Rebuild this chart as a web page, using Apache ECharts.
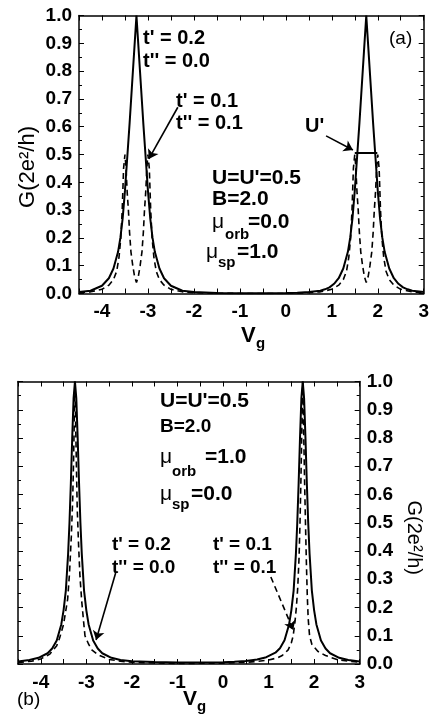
<!DOCTYPE html>
<html><head><meta charset="utf-8">
<script src="https://cdn.jsdelivr.net/npm/echarts@6/dist/echarts.min.js"></script>
<style>html,body{margin:0;padding:0;background:#fff}#c{width:432px;height:719px}</style>
</head><body><div id="c"></div>
<script>
// ---------- Panel (a): mu_orb=0, mu_sp=1 ----------
const aSolidX = [-4.5,-4.25,-4.0,-3.85,-3.75,-3.65,-3.6,-3.55,-3.5,-3.45,-3.4,-3.35,-3.3,-3.25,-3.2,-3.15,-3.1,-3.05,-3.0,-2.95,-2.9,-2.85,-2.75,-2.65,-2.5,-2.25,-2.0,-1.5,-1.0,-0.5,0,0.25,0.5,0.75,0.85,0.95,1.05,1.15,1.25,1.35,1.4,1.45,1.5,1.55,1.6,1.65,1.7,1.75,1.8,1.85,1.9,1.95,2.0,2.05,2.1,2.15,2.25,2.35,2.45,2.55,2.65,2.75,3.0];
const aSolidY = [0.005,0.01,0.028,0.055,0.09,0.15,0.2,0.27,0.37,0.49,0.61,0.74,0.87,1.0,0.87,0.74,0.61,0.49,0.37,0.27,0.2,0.15,0.09,0.055,0.028,0.01,0.005,0.002,0.001,0.001,0.002,0.003,0.005,0.01,0.015,0.022,0.035,0.055,0.09,0.15,0.2,0.27,0.37,0.49,0.61,0.74,0.87,1.0,0.87,0.74,0.61,0.49,0.37,0.27,0.2,0.15,0.09,0.055,0.035,0.022,0.015,0.01,0.005];
const aDashX = [-4.5,-4.25,-4.0,-3.85,-3.75,-3.68,-3.63,-3.59,-3.56,-3.53,-3.5,-3.48,-3.45,-3.425,-3.4,-3.37,-3.33,-3.29,-3.25,-3.21,-3.17,-3.13,-3.1,-3.075,-3.05,-3.02,-3.0,-2.97,-2.94,-2.91,-2.87,-2.82,-2.75,-2.65,-2.5,-2.25,-2.0,-1.5,-1.0,0,0.5,0.75,1.0,1.15,1.25,1.32,1.37,1.41,1.44,1.47,1.5,1.52,1.55,1.575,1.6,1.63,1.67,1.71,1.75,1.79,1.83,1.87,1.9,1.925,1.95,1.98,2.0,2.03,2.06,2.09,2.13,2.18,2.25,2.35,2.5,2.75,3.0];
const aDashY = [0.003,0.006,0.015,0.03,0.05,0.08,0.13,0.2,0.3,0.45,0.5,0.46,0.36,0.3,0.22,0.15,0.1,0.06,0.04,0.06,0.1,0.15,0.22,0.3,0.36,0.46,0.5,0.45,0.3,0.2,0.13,0.08,0.05,0.03,0.015,0.006,0.003,0.001,0,0,0.003,0.006,0.015,0.03,0.05,0.08,0.13,0.2,0.3,0.45,0.5,0.46,0.36,0.3,0.22,0.15,0.1,0.06,0.04,0.06,0.1,0.15,0.22,0.3,0.36,0.46,0.5,0.45,0.3,0.2,0.13,0.08,0.05,0.03,0.015,0.006,0.003];
const aBarX = [1.5, 1.99];
const aBarY = [0.505, 0.505];
const aArrowT = [[-2.35, 0.67], [-2.98, 0.484]];
const aArrowU = [[0.876, 0.567], [1.46, 0.516]];

// ---------- Panel (b): mu_orb=1, mu_sp=0 ----------
const bSolidX = [-4.5,-4.25,-4.05,-3.85,-3.75,-3.65,-3.55,-3.5,-3.45,-3.4,-3.37,-3.34,-3.31,-3.28,-3.25,-3.22,-3.19,-3.16,-3.13,-3.1,-3.05,-3.0,-2.95,-2.85,-2.75,-2.65,-2.45,-2.25,-2.0,-1.5,-1.0,-0.5,0,0.25,0.5,0.75,0.95,1.15,1.25,1.35,1.45,1.5,1.55,1.6,1.63,1.66,1.69,1.72,1.75,1.78,1.81,1.84,1.87,1.9,1.95,2.0,2.05,2.15,2.25,2.35,2.55,2.75,3.0];
const bSolidY = [0.009,0.014,0.022,0.038,0.055,0.083,0.14,0.19,0.26,0.39,0.5,0.64,0.8,0.94,1.0,0.94,0.8,0.64,0.5,0.39,0.26,0.19,0.14,0.083,0.055,0.038,0.022,0.014,0.01,0.007,0.005,0.005,0.006,0.008,0.011,0.016,0.024,0.04,0.056,0.084,0.14,0.19,0.26,0.39,0.5,0.64,0.8,0.94,1.0,0.94,0.8,0.64,0.5,0.39,0.26,0.19,0.14,0.083,0.055,0.038,0.022,0.014,0.009];
const bDashX = [-4.5,-4.2,-4.0,-3.8,-3.65,-3.59,-3.5,-3.45,-3.41,-3.37,-3.33,-3.3,-3.28,-3.265,-3.25,-3.235,-3.22,-3.2,-3.17,-3.14,-3.1,-3.06,-3.03,-2.95,-2.88,-2.75,-2.5,-2.25,-2.0,-1.0,0,0.5,0.75,1.0,1.2,1.3,1.43,1.5,1.54,1.58,1.61,1.64,1.67,1.69,1.71,1.73,1.75,1.77,1.79,1.81,1.83,1.85,1.87,1.9,1.95,2.08,2.25,2.5,2.75,3.0];
const bDashY = [0.005,0.01,0.018,0.035,0.065,0.09,0.14,0.19,0.23,0.32,0.45,0.58,0.72,0.86,1.0,0.86,0.72,0.55,0.42,0.31,0.22,0.15,0.1,0.07,0.05,0.033,0.016,0.01,0.006,0.002,0.003,0.006,0.009,0.014,0.022,0.03,0.05,0.075,0.1,0.15,0.2,0.27,0.38,0.5,0.65,0.83,1.0,0.83,0.65,0.5,0.36,0.24,0.16,0.1,0.07,0.045,0.03,0.016,0.01,0.007];
const bArrowT = [[-2.357, 0.322], [-2.786, 0.085]];
const bArrowD = [[1.05, 0.308], [1.542, 0.12]];

// ---------- Axis settings ----------
const xMin = -4.5, xMax = 3, xStep = 0.5;
const yMin = 0, yMax = 1, yStep = 0.1;

const FONT = '"Liberation Sans", Arial, Helvetica, sans-serif';
const pairs = (xs, ys) => xs.map((x, i) => [x, ys[i]]);

function xAx(grid, pos, labels) {
  return {
    type: 'value', gridIndex: grid, position: pos, min: xMin, max: xMax, interval: xStep,
    axisLine: { show: true, onZero: false, lineStyle: { color: '#000', width: 1.5 } },
    axisTick: { show: true, inside: true, length: 5, lineStyle: { color: '#000', width: 1 } },
    splitLine: { show: false },
    axisLabel: { show: labels, color: '#000', fontFamily: FONT, fontWeight: 'bold', fontSize: 19, margin: 9,
      formatter: v => Number.isInteger(v) ? String(v) : '' }
  };
}
function yAx(grid, pos, labels, name) {
  const o = {
    type: 'value', gridIndex: grid, position: pos, min: yMin, max: yMax, interval: yStep,
    axisLine: { show: true, onZero: false, lineStyle: { color: '#000', width: 1.5 } },
    axisTick: { show: true, inside: true, length: 5, lineStyle: { color: '#000', width: 1 } },
    minorTick: { show: true, splitNumber: 2, length: 3, lineStyle: { color: '#000', width: 1 } },
    splitLine: { show: false }, minorSplitLine: { show: false },
    axisLabel: { show: labels, color: '#000', fontFamily: FONT, fontWeight: 'bold', fontSize: 19, margin: 7,
      formatter: v => v.toFixed(1) }
  };
  if (name) {
    o.name = name; o.nameLocation = 'middle'; o.nameGap = 40; o.nameRotate = -90;
    o.nameTextStyle = { color: '#000', fontFamily: FONT, fontSize: 20, padding: [0, 0, 0, 30] };
  }
  return o;
}

const solidStyle = { color: '#000', width: 2, type: 'solid' };
const dashStyle = { color: '#000', width: 1.6, type: [6, 4] };
function arrow(pts, type) {
  return [{ coord: pts[0], lineStyle: { color: '#000', width: 1.6, type: type } }, { coord: pts[1] }];
}

// annotation texts: [text, x, y, size, weight, rotation]
const texts = [
  // panel (a)
  ["t' = 0.2", 143, 38, 20, 'bold'],
  ["t'' = 0.0", 143, 61, 20, 'bold'],
  ["t' = 0.1", 176, 101, 20, 'bold'],
  ["t'' = 0.1", 176, 123, 20, 'bold'],
  ["U'", 305, 126, 20, 'bold'],
  ["U=U'=0.5", 212, 178, 21, 'bold'],
  ["B=2.0", 212, 199, 21, 'bold'],
  ["\u03bc", 212, 222, 21, 'normal'], ["orb", 225, 235, 15, 'bold'], ["=0.0", 248, 222, 21, 'bold'],
  ["\u03bc", 206, 252, 21, 'normal'], ["sp", 218, 263, 15, 'bold'], ["=1.0", 237, 252, 21, 'bold'],
  ["(a)", 389, 38.5, 19, 'normal'],
  ["V", 241, 336, 22, 'bold'], ["g", 256, 344, 15, 'bold'],
  // panel (b)
  ["U=U'=0.5", 160, 401.5, 21, 'bold'],
  ["B=2.0", 160, 427, 19, 'bold'],
  ["\u03bc", 160, 457.5, 21, 'normal'], ["orb", 172, 472, 15, 'bold'], ["=1.0", 205, 457.5, 21, 'bold'],
  ["\u03bc", 160, 494, 21, 'normal'], ["sp", 172, 505, 15, 'bold'], ["=0.0", 191, 494, 21, 'bold'],
  ["t' = 0.2", 112, 545, 19, 'bold'],
  ["t'' = 0.0", 112, 568, 19, 'bold'],
  ["t' = 0.1", 213, 545, 19, 'bold'],
  ["t'' = 0.1", 213, 568, 19, 'bold'],
  ["(b)", 17, 700, 19, 'normal'],
  ["V", 183, 699, 21, 'bold'], ["g", 197, 707, 15, 'bold']
];
const textGraphics = texts.map(t => ({
  type: 'text', x: t[1], y: t[2], silent: true,
  style: { text: t[0], fill: '#000', fontFamily: FONT, fontSize: t[3], fontWeight: t[4], align: 'left', verticalAlign: 'middle' }
}));
// rotated y-axis title of panel (a)
textGraphics.push({
  type: 'text', x: 28, y: 167, rotation: Math.PI / 2, silent: true,
  style: { text: 'G(2e\u00b2/h)', fill: '#000', fontFamily: FONT, fontSize: 22, fontWeight: 'normal', align: 'center', verticalAlign: 'middle' }
});

const chart = echarts.init(document.getElementById('c'), null, { renderer: 'canvas' });
chart.setOption({
  animation: false,
  backgroundColor: '#fff',
  grid: [
    { left: 79, top: 15.5, width: 346, height: 278, containLabel: false },
    { left: 18, top: 381.5, width: 350, height: 282.5, containLabel: false }
  ],
  xAxis: [ xAx(0, 'bottom', true), xAx(0, 'top', false), xAx(1, 'bottom', true), xAx(1, 'top', false) ],
  yAxis: [ yAx(0, 'left', true), yAx(0, 'right', false), yAx(1, 'right', true, 'G(2e\u00b2/h)'), yAx(1, 'left', false) ],
  graphic: textGraphics,
  series: [
    { type: 'line', name: 'a solid', xAxisIndex: 0, yAxisIndex: 0, data: pairs(aSolidX, aSolidY),
      showSymbol: false, lineStyle: solidStyle, z: 3,
      markLine: { silent: true, symbol: ['none', 'arrow'], symbolSize: 9, label: { show: false },
        data: [arrow(aArrowT, 'solid'), arrow(aArrowU, 'solid')] } },
    { type: 'line', name: 'a dashed', xAxisIndex: 0, yAxisIndex: 0, data: pairs(aDashX, aDashY),
      showSymbol: false, lineStyle: dashStyle, z: 2 },
    { type: 'line', name: "a U' bar", xAxisIndex: 0, yAxisIndex: 0, data: pairs(aBarX, aBarY),
      showSymbol: false, lineStyle: solidStyle, z: 4 },
    { type: 'line', name: 'b solid', xAxisIndex: 2, yAxisIndex: 2, data: pairs(bSolidX, bSolidY),
      showSymbol: false, lineStyle: solidStyle, z: 3,
      markLine: { silent: true, symbol: ['none', 'arrow'], symbolSize: 9, label: { show: false },
        data: [arrow(bArrowT, 'solid')] } },
    { type: 'line', name: 'b dashed', xAxisIndex: 2, yAxisIndex: 2, data: pairs(bDashX, bDashY),
      showSymbol: false, lineStyle: dashStyle, z: 2,
      markLine: { silent: true, symbol: ['none', 'arrow'], symbolSize: 9, label: { show: false },
        data: [arrow(bArrowD, [6, 4])] } }
  ]
});
</script></body></html>
